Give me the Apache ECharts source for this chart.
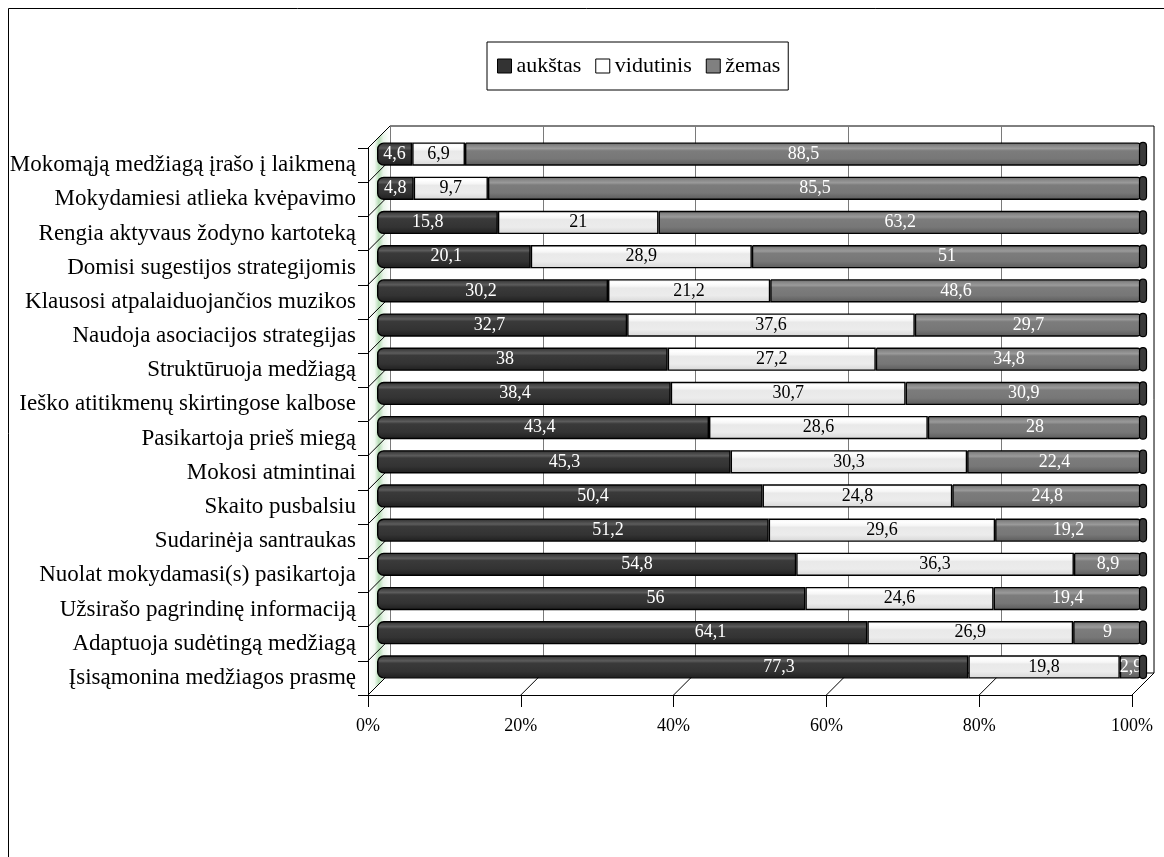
<!DOCTYPE html>
<html>
<head>
<meta charset="utf-8">
<script src="https://cdn.jsdelivr.net/npm/echarts@6/dist/echarts.min.js"></script>
<style>
  html, body { margin: 0; padding: 0; background: #ffffff; }
  #chart { width: 1164px; height: 857px; }
</style>
</head>
<body>
<div id="chart"></div>
<script>
// Learning strategies, share of respondents by level (%)
const categories = [
  'Mokomąją medžiagą įrašo į laikmeną',
  'Mokydamiesi atlieka kvėpavimo',
  'Rengia aktyvaus žodyno kartoteką',
  'Domisi sugestijos strategijomis',
  'Klausosi atpalaiduojančios muzikos',
  'Naudoja asociacijos strategijas',
  'Struktūruoja medžiagą',
  'Ieško atitikmenų skirtingose kalbose',
  'Pasikartoja prieš miegą',
  'Mokosi atmintinai',
  'Skaito pusbalsiu',
  'Sudarinėja santraukas',
  'Nuolat mokydamasi(s) pasikartoja',
  'Užsirašo pagrindinę informaciją',
  'Adaptuoja sudėtingą medžiagą',
  'Įsisąmonina medžiagos prasmę'
];
const aukstas   = [4.6, 4.8, 15.8, 20.1, 30.2, 32.7, 38, 38.4, 43.4, 45.3, 50.4, 51.2, 54.8, 56, 64.1, 77.3];
const vidutinis = [6.9, 9.7, 21, 28.9, 21.2, 37.6, 27.2, 30.7, 28.6, 30.3, 24.8, 29.6, 36.3, 24.6, 26.9, 19.8];
const zemas     = [88.5, 85.5, 63.2, 51, 48.6, 29.7, 34.8, 30.9, 28, 22.4, 24.8, 19.2, 8.9, 19.4, 9, 2.9];
const seriesNames = ['aukštas', 'vidutinis', 'žemas'];
const percentTicks = [0, 20, 40, 60, 80, 100];

// where the value label of each "aukštas" segment sits, as a share of the segment length
const aukstasLabelAt = [0.5, 0.5, 0.42, 0.45, 0.45, 0.45, 0.44, 0.47, 0.49, 0.53, 0.56, 0.59, 0.62, 0.65, 0.68, 0.68];

const FONT = 'Liberation Serif, Times New Roman, serif';

function vgrad(stops) {
  return new echarts.graphic.LinearGradient(0, 0, 0, 1,
    stops.map(s => ({ offset: s[0], color: s[1] })));
}
const darkFill = vgrad([[0, '#2a2a2a'], [0.12, '#444'], [0.24, '#5c5c5c'], [0.34, '#3a3a3a'], [0.7, '#333'], [1, '#1e1e1e']]);
const lightFill = vgrad([[0, '#f2f2f2'], [0.15, '#ffffff'], [0.3, '#f6f6f6'], [0.38, '#e9e9e9'], [0.7, '#ececec'], [1, '#d6d6d6']]);
const greyFill = vgrad([[0, '#666'], [0.14, '#888'], [0.26, '#9a9a9a'], [0.36, '#7c7c7c'], [0.7, '#777'], [1, '#5a5a5a']]);

// 100% stacking: each row is scaled to its own total, labels keep the raw value
const totals = categories.map((c, i) => aukstas[i] + vidutinis[i] + zemas[i]);
const share = arr => arr.map((v, i) => ({ value: v / totals[i] * 100, raw: v }));
const fmt = p => String(p.data.raw).replace('.', ',');

function barSeries(name, data, fill, textColor, radius, labelAt) {
  const items = share(data);
  if (labelAt) {
    items.forEach((d, i) => {
      d.label = { position: [(labelAt[i] * 100) + '%', '50%'], align: 'center', verticalAlign: 'middle' };
    });
  }
  return {
    name: name,
    type: 'bar',
    stack: 'all',
    xAxisIndex: 2,
    yAxisIndex: 2,
    barWidth: '68%',
    data: items,
    itemStyle: { color: fill, borderColor: '#000', borderWidth: 1.4, borderRadius: radius },
    label: {
      show: true, position: 'inside', formatter: fmt,
      fontFamily: FONT, fontSize: 18, color: textColor
    },
    emphasis: { disabled: true },
    z: 3
  };
}

const option = {
  backgroundColor: '#ffffff',
  animation: false,
  legend: {
    left: 487, top: 42,
    padding: [13, 8, 13, 10],
    borderColor: '#000', borderWidth: 1,
    icon: 'rect', itemWidth: 14, itemHeight: 14, itemGap: 14,
    textStyle: { fontFamily: FONT, fontSize: 22, color: '#000' },
    data: [
      { name: seriesNames[0], itemStyle: { color: '#333', borderColor: '#000', borderWidth: 1 } },
      { name: seriesNames[1], itemStyle: { color: '#fff', borderColor: '#000', borderWidth: 1 } },
      { name: seriesNames[2], itemStyle: { color: '#808080', borderColor: '#000', borderWidth: 1 } }
    ]
  },
  grid: [
    // front plane: axes with labels
    { left: 368, right: 32, top: 148, bottom: 162 },
    // back wall with gridlines
    { left: 390, right: 10, top: 126, bottom: 184, show: true, borderColor: '#000', borderWidth: 1, backgroundColor: 'transparent' },
    // bars at mid depth
    { left: 377, right: 22, top: 137, bottom: 173 }
  ],
  xAxis: [
    {
      gridIndex: 0, type: 'value', min: 0, max: 100, interval: 20, z: 5,
      axisLine: { show: true, lineStyle: { color: '#000', width: 1 } },
      axisTick: { show: true, length: 12, lineStyle: { color: '#000' } },
      axisLabel: { margin: 22, fontFamily: FONT, fontSize: 18, color: '#000', formatter: v => v + '%' },
      splitLine: { show: false }
    },
    {
      gridIndex: 1, type: 'value', min: 0, max: 100, interval: 20,
      axisLine: { show: false }, axisTick: { show: false }, axisLabel: { show: false },
      splitLine: { show: true, lineStyle: { color: '#7a7a7a', width: 1 } }
    },
    {
      gridIndex: 2, type: 'value', min: 0, max: 100, interval: 20, show: false,
      splitLine: { show: false }
    }
  ],
  yAxis: [
    {
      gridIndex: 0, type: 'category', data: categories, inverse: true, z: 5,
      axisLine: { show: true, lineStyle: { color: '#000', width: 1 } },
      axisTick: { show: true, length: 10, lineStyle: { color: '#000' } },
      axisLabel: { margin: 12, fontFamily: FONT, fontSize: 23, color: '#000' }
    },
    {
      gridIndex: 1, type: 'category', data: categories, inverse: true,
      axisLine: { show: false }, axisTick: { show: false }, axisLabel: { show: false },
      splitLine: { show: false }
    },
    {
      gridIndex: 2, type: 'category', data: categories, inverse: true, show: false
    }
  ],
  series: [
    barSeries(seriesNames[0], aukstas, darkFill, '#fff', [6, 0, 0, 6], aukstasLabelAt),
    barSeries(seriesNames[1], vidutinis, lightFill, '#000', 0),
    barSeries(seriesNames[2], zemas, greyFill, '#fff', [0, 4, 4, 0]),
    {
      // end caps of the cylinders, at the top of each 100% stack
      type: 'custom',
      xAxisIndex: 2, yAxisIndex: 2,
      data: categories.map((c, i) => [100, i]),
      renderItem: function (params, api) {
        const p = api.coord([api.value(0), api.value(1)]);
        const h = api.size([0, 1])[1] * 0.68;
        return {
          type: 'rect',
          shape: { x: p[0] - 2.5, y: p[1] - h / 2, width: 7, height: h, r: 3.5 },
          style: { fill: '#3a3a3a', stroke: '#000', lineWidth: 1.2 }
        };
      },
      silent: true,
      z: 4
    }
  ]
};

const chart = echarts.init(document.getElementById('chart'), null, { renderer: 'canvas' });
chart.setOption(option);

// Geometry of a grid's plot box taken from its axes
function plotBox(gridIndex) {
  const a = chart.convertToPixel({ gridIndex: gridIndex }, [0, categories[0]]);
  const b = chart.convertToPixel({ gridIndex: gridIndex }, [0, categories[1]]);
  const band = b[1] - a[1];
  const top = a[1] - band / 2;
  return {
    x: v => chart.convertToPixel({ gridIndex: gridIndex }, [v, categories[0]])[0],
    left: a[0], top: top, band: band,
    bottom: top + band * categories.length
  };
}

const F = plotBox(0);
const B = plotBox(1);
const edges = [];

// left wall
edges.push({
  type: 'polygon', silent: true, z: 1,
  shape: { points: [[F.left, F.top], [F.left, F.bottom], [B.left, B.bottom], [B.left, B.top]] },
  style: {
    fill: new echarts.graphic.LinearGradient(0, 0, 1, 0, [
      { offset: 0, color: '#ffffff' }, { offset: 0.3, color: '#f2f9f2' },
      { offset: 0.5, color: '#b4dcb4' }, { offset: 0.7, color: '#eaf5ea' }, { offset: 1, color: '#ffffff' }
    ])
  }
});
// category boundaries running along the left wall
for (let k = 0; k <= categories.length; k++) {
  edges.push({
    type: 'line', silent: true, z: 1,
    shape: { x1: F.left, y1: F.top + k * F.band, x2: B.left, y2: B.top + k * B.band },
    style: { stroke: '#000', lineWidth: 1 }
  });
}
// floor lines at each tick
percentTicks.forEach(v => {
  edges.push({
    type: 'line', silent: true, z: 1,
    shape: { x1: F.x(v), y1: F.bottom, x2: B.x(v), y2: B.bottom },
    style: { stroke: '#000', lineWidth: 1 }
  });
});
// outer frame of the chart area
edges.push({
  type: 'rect', silent: true, z: 0,
  shape: { x: 8.5, y: 8.5, width: 1175, height: 870 },
  style: { fill: 'none', stroke: '#000', lineWidth: 1 }
});

chart.setOption({ graphic: edges });
</script>
</body>
</html>
